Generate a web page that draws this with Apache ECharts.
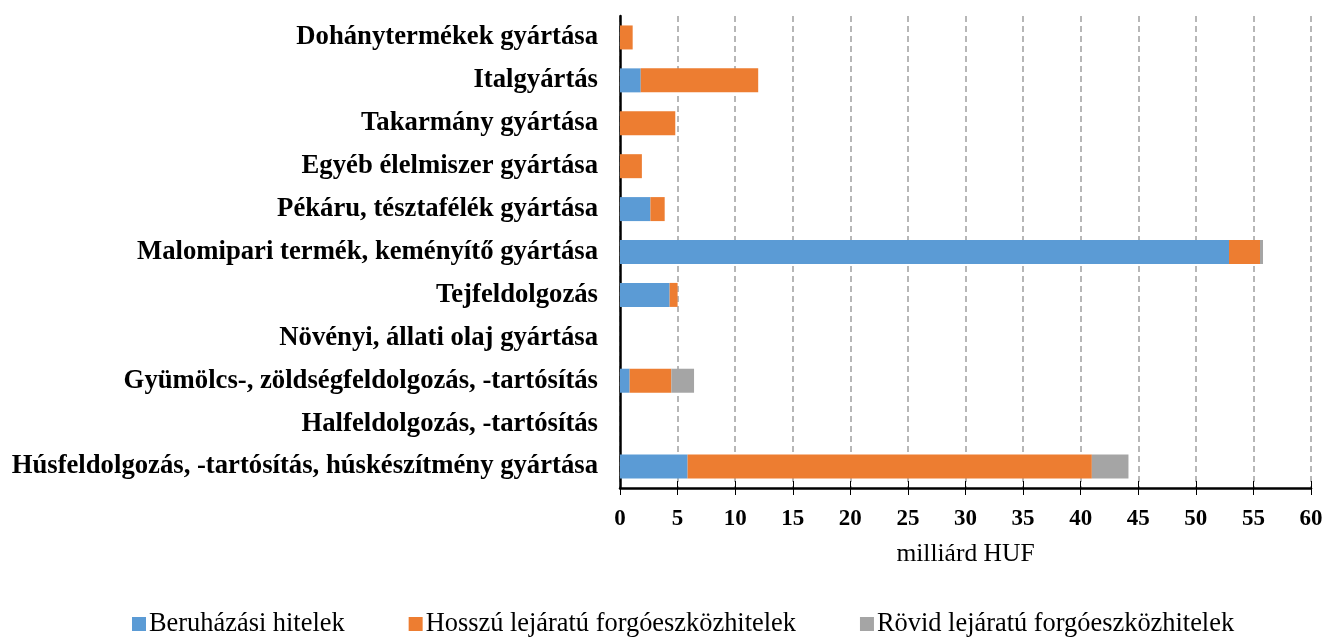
<!DOCTYPE html>
<html><head><meta charset="utf-8">
<script src="https://cdn.jsdelivr.net/npm/echarts@6/dist/echarts.min.js"></script>
<style>html,body{margin:0;padding:0;background:#fff}#c{width:1326px;height:642px}</style>
</head><body><div id="c"></div>
<script>
const categories = [
  'Húsfeldolgozás, -tartósítás, húskészítmény gyártása',
  'Halfeldolgozás, -tartósítás',
  'Gyümölcs-, zöldségfeldolgozás, -tartósítás',
  'Növényi, állati olaj gyártása',
  'Tejfeldolgozás',
  'Malomipari termék, keményítő gyártása',
  'Pékáru, tésztafélék gyártása',
  'Egyéb élelmiszer gyártása',
  'Takarmány gyártása',
  'Italgyártás',
  'Dohánytermékek gyártása'
];
const beruhazasi = [5.87, 0, 0.84, 0, 4.31, 52.88, 2.64, 0, 0, 1.8, 0];
const hosszu     = [35.1, 0, 3.62, 0, 0.69, 2.69, 1.24, 1.9, 4.8, 10.2, 1.1];
const rovid      = [3.18, 0, 1.97, 0, 0, 0.26, 0, 0, 0, 0, 0];
const seriesNames = ['Beruházási hitelek', 'Hosszú lejáratú forgóeszközhitelek', 'Rövid lejáratú forgóeszközhitelek'];
const xTicks = [0, 5, 10, 15, 20, 25, 30, 35, 40, 45, 50, 55, 60];

const colors = ['#5B9BD5', '#ED7D31', '#A5A5A5'];
const font = '"Liberation Serif", "Times New Roman", serif';
const chart = echarts.init(document.getElementById('c'));
const mk = (name, data, color) => ({
  name, type: 'bar', stack: 'a', data: data.map(v => v === 0 ? '-' : v), barWidth: 24,
  itemStyle: { color },
  emphasis: { disabled: true }
});
chart.setOption({
  animation: false,
  textStyle: { fontFamily: font },
  grid: { left: 620, right: 15, top: 16, bottom: 154 },
  legend: {
    bottom: 0, left: 127, itemWidth: 14, itemHeight: 14, itemGap: 64,
    icon: 'rect',
    textStyle: { fontFamily: font, fontSize: 26.4, color: '#000', padding: [0, 0, 0, -2] },
    data: seriesNames
  },
  xAxis: [{
    type: 'value', min: xTicks[0], max: xTicks[xTicks.length - 1], interval: 5,
    name: 'milliárd HUF', nameLocation: 'middle', nameGap: 53,
    nameTextStyle: { fontFamily: font, fontSize: 25.5, color: '#000' },
    axisLine: { show: true, lineStyle: { color: '#000', width: 2.5 } },
    axisTick: { show: true, length: 7, lineStyle: { color: '#000', width: 1 } },
    axisLabel: { fontFamily: font, fontSize: 23, fontWeight: 'bold', color: '#000', margin: 20 },
    splitLine: { show: true, lineStyle: { color: '#A0A0A0', type: [6, 4], width: 1.5 } }
  }, {
    type: 'value', position: 'bottom', min: xTicks[0], max: xTicks[xTicks.length - 1], interval: 5,
    axisLine: { show: false },
    axisTick: { show: true, inside: true, length: 7, lineStyle: { color: '#000', width: 1 } },
    axisLabel: { show: false }, splitLine: { show: false }
  }],
  yAxis: {
    type: 'category', data: categories,
    axisLine: { show: true, lineStyle: { color: '#000', width: 2.5 } },
    axisTick: { show: false },
    axisLabel: { fontFamily: font, fontSize: 26.7, fontWeight: 'bold', color: '#000', margin: 22 }
  },
  series: [
    mk(seriesNames[0], beruhazasi, colors[0]),
    mk(seriesNames[1], hosszu, colors[1]),
    mk(seriesNames[2], rovid, colors[2])
  ]
});
</script></body></html>
